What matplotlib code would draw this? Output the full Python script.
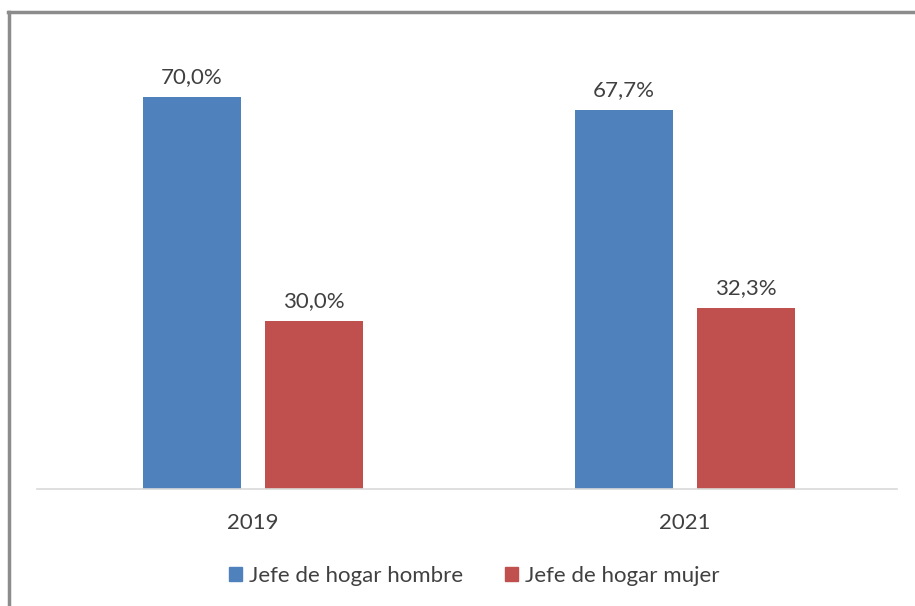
import matplotlib
matplotlib.use("Agg")
import matplotlib.pyplot as plt
from matplotlib.lines import Line2D
from matplotlib.patches import Patch
import numpy as np

years = ["2019", "2021"]
hombre = [70.0, 67.7]
mujer = [30.0, 32.3]
series_names = ["Jefe de hogar hombre", "Jefe de hogar mujer"]
colors = ["#4F81BD", "#C0504D"]

plt.rcParams['font.family'] = ['Lato', 'DejaVu Sans']
txt = "#404040"

fig = plt.figure(figsize=(9.15, 6.06), dpi=100)
ax = fig.add_axes([37/915, 0.1931, 860/915, 0.7393])

x = np.arange(len(years))
w = 0.2269
off = 0.141
b1 = ax.bar(x - off, hombre, w, color=colors[0])
b2 = ax.bar(x + off, mujer, w, color=colors[1])

for bars, vals in ((b1, hombre), (b2, mujer)):
    for r, v in zip(bars, vals):
        ax.annotate(f"{v:.1f}".replace(".", ",") + "%",
                    (r.get_x() + r.get_width()/2, v),
                    xytext=(0, 7), textcoords="offset points",
                    ha="center", va="bottom", fontsize=16, color=txt)

ax.set_xlim(-0.5, 1.4907)
ax.set_ylim(0, 80)
ax.set_xticks(x)
ax.set_xticklabels(years, fontsize=16, color=txt)
ax.tick_params(axis="x", length=0, pad=17)
ax.set_yticks([])
for s in ("top", "right", "left"):
    ax.spines[s].set_visible(False)
ax.spines["bottom"].set_color("#D9D9D9")
ax.spines["bottom"].set_linewidth(1.2)

handles = [Patch(color=c) for c in colors]
fig.legend(handles, series_names, loc="center", bbox_to_anchor=(474/915, 1 - 576/606),
           ncol=2, frameon=False, fontsize=16, handlelength=0.6, handleheight=0.6,
           handletextpad=0.3, columnspacing=1.9, labelcolor=txt)

# partial frame (top and left)
fig.add_artist(Line2D([9/915, 9/915], [0, 1 - 12/606], transform=fig.transFigure,
                      color="#8C8C8C", lw=2.5))
fig.add_artist(Line2D([8/915, 1], [1 - 12/606, 1 - 12/606], transform=fig.transFigure,
                      color="#8C8C8C", lw=2.5))

fig.savefig("out.png", dpi=100, facecolor="white")
